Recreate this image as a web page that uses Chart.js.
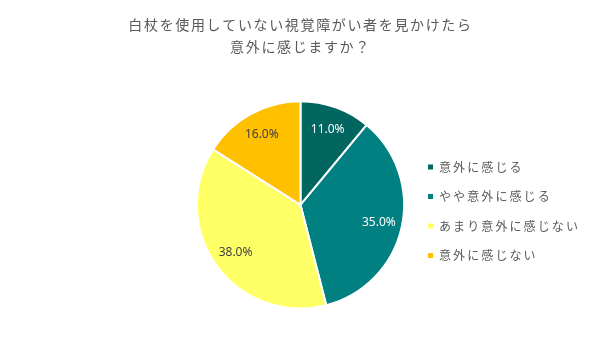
<!DOCTYPE html>
<html>
<head>
<meta charset="utf-8">
<script src="https://cdn.jsdelivr.net/npm/chart.js@4"></script>
<style>
  html, body { margin: 0; padding: 0; background: #fff; }
</style>
</head>
<body>
<canvas id="myChart" width="600" height="347"></canvas>
<script>
const categories = ["意外に感じる", "やや意外に感じる", "あまり意外に感じない", "意外に感じない"];
const percentValues = [11.0, 35.0, 38.0, 16.0];
const sliceColors = ["#00665F", "#008080", "#FFFF66", "#FFC000"];
const labelColors = ["#ffffff", "#ffffff", "#404040", "#404040"];
const titleLines = ["白杖を使用していない視覚障がい者を見かけたら", "意外に感じますか？"];

const jpFont = "'Noto Sans CJK JP', 'Noto Sans', sans-serif";

// spaced-out title text like the original
const spacingPlugin = {
  id: "spacing",
  beforeDraw(chart) { chart.ctx.letterSpacing = "1.65px"; },
  afterDraw(chart) { chart.ctx.letterSpacing = "0px"; }
};

const percentLabels = {
  id: "percentLabels",
  afterDatasetsDraw(chart) {
    const ctx = chart.ctx;
    const meta = chart.getDatasetMeta(0);
    ctx.save();
    ctx.letterSpacing = "0px";
    ctx.font = "12px 'Noto Sans', sans-serif";
    ctx.textAlign = "center";
    ctx.textBaseline = "middle";
    meta.data.forEach((arc, i) => {
      const p = arc.getProps(["x", "y", "startAngle", "endAngle", "outerRadius"], true);
      const mid = (p.startAngle + p.endAngle) / 2;
      const r = p.outerRadius * 0.775;
      ctx.fillStyle = labelColors[i];
      ctx.fillText(percentValues[i].toFixed(1) + "%", p.x + Math.cos(mid) * r, p.y + Math.sin(mid) * r);
    });
    ctx.restore();
  }
};

const sideLegend = {
  id: "sideLegend",
  afterDraw(chart) {
    const ctx = chart.ctx;
    ctx.save();
    ctx.letterSpacing = "2.1px";
    ctx.font = "12px " + jpFont;
    ctx.textAlign = "left";
    ctx.textBaseline = "middle";
    categories.forEach((name, i) => {
      const y = 167 + i * 29.5;
      ctx.fillStyle = sliceColors[i];
      ctx.fillRect(428, y - 2.5, 5, 5);
      ctx.fillStyle = "#595959";
      ctx.fillText(name, 439, y);
    });
    ctx.restore();
  }
};

const ctx = document.getElementById("myChart").getContext("2d");
const myChart = new Chart(ctx, {
  type: "pie",
  data: {
    labels: categories,
    datasets: [
      {
        data: percentValues,
        backgroundColor: sliceColors,
        borderColor: "#ffffff",
        borderWidth: 2,
      },
    ],
  },
  options: {
    responsive: false,
    animation: false,
    layout: {
      padding: { left: 1, right: 0, top: 0, bottom: 37.5 }
    },
    plugins: {
      legend: { display: false },
      tooltip: { enabled: false },
      title: {
        display: true,
        text: titleLines,
        color: "#595959",
        font: { size: 14, weight: "normal", family: jpFont, lineHeight: 1.6 },
        padding: { top: 13.5, bottom: 42 }
      }
    }
  },
  plugins: [spacingPlugin, percentLabels, sideLegend]
});
</script>
</body>
</html>
